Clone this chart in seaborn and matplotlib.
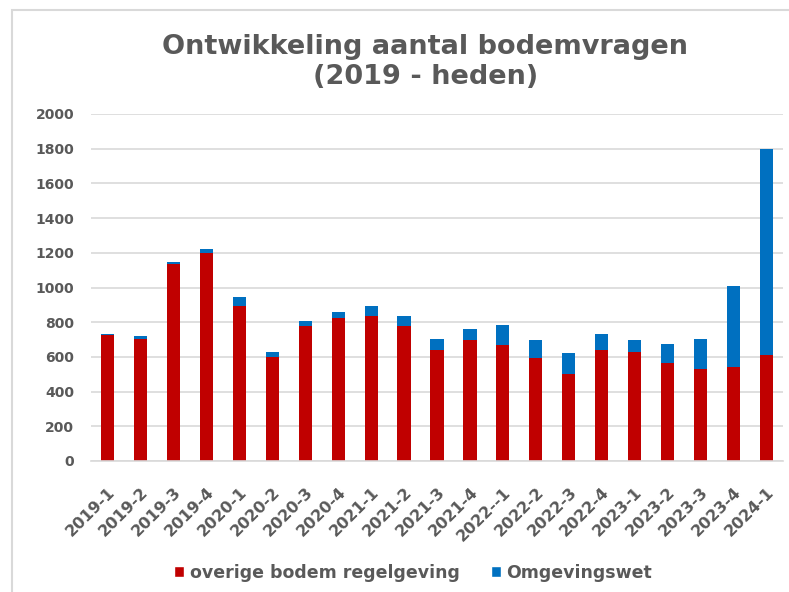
import matplotlib
matplotlib.use("Agg")
import matplotlib.pyplot as plt
import seaborn as sns
import pandas as pd
from matplotlib.patches import Rectangle, Patch

categories = ["2019-1", "2019-2", "2019-3", "2019-4", "2020-1", "2020-2", "2020-3",
              "2020-4", "2021-1", "2021-2", "2021-3", "2021-4", "2022--1", "2022-2",
              "2022-3", "2022-4", "2023-1", "2023-2", "2023-3", "2023-4", "2024-1"]
overige = [725, 703, 1135, 1200, 895, 600, 779, 823, 835, 779, 642, 700, 667, 593,
           500, 642, 630, 566, 533, 541, 613]
omgevingswet = [5, 18, 10, 23, 48, 30, 29, 33, 58, 56, 59, 63, 119, 103,
                124, 90, 70, 106, 172, 466, 1184]
yticks = [0, 200, 400, 600, 800, 1000, 1200, 1400, 1600, 1800, 2000]

RED = "#C00000"
BLUE = "#0070C0"
TXT = "#595959"

df = pd.DataFrame({"kwartaal": categories, "overige": overige, "omgevingswet": omgevingswet})
df["totaal"] = df["overige"] + df["omgevingswet"]

sns.set_theme(style="white")
plt.rcParams["font.family"] = ["DejaVu Sans"]

fig = plt.figure(figsize=(7.89, 5.92), dpi=100)
ax = fig.add_axes([91/789, 1-461/592, (783-91)/789, (461-114)/592])

sns.barplot(data=df, x="kwartaal", y="totaal", color=BLUE, width=0.4, ax=ax,
            saturation=1, linewidth=0)
sns.barplot(data=df, x="kwartaal", y="overige", color=RED, width=0.4, ax=ax,
            saturation=1, linewidth=0)

ax.set_xlim(-0.5, len(categories) - 0.5)
ax.set_ylim(0, 2000)
ax.set_yticks(yticks)
ax.set_yticklabels([str(v) for v in yticks], fontsize=10, fontweight="bold", color=TXT)
ax.set_xticks(range(len(categories)))
ax.set_xticklabels(categories, rotation=45, ha="right", rotation_mode="anchor",
                   fontsize=11.5, fontweight="bold", color=TXT)
ax.tick_params(axis="y", length=0, pad=12)
ax.tick_params(axis="x", length=0, pad=17)
ax.set_xlabel("")
ax.set_ylabel("")
ax.yaxis.grid(True, color="#D9D9D9", linewidth=1.2)
ax.set_axisbelow(True)
for s in ["top", "right", "left"]:
    ax.spines[s].set_visible(False)
ax.spines["bottom"].set_color("#D9D9D9")
ax.spines["bottom"].set_linewidth(1.2)

fig.text(0.539, 1-62/592, "Ontwikkeling aantal bodemvragen\n(2019 - heden)",
         ha="center", va="center", fontsize=19.5, fontweight="bold", color=TXT,
         linespacing=1.15)

handles = [Patch(facecolor=RED, label="overige bodem regelgeving"),
           Patch(facecolor=BLUE, label="Omgevingswet")]
leg = fig.legend(handles=handles, loc="center", bbox_to_anchor=(0.5235, 1-573/592),
                 ncol=2, frameon=False, handlelength=0.6, handleheight=0.6,
                 handletextpad=0.3, columnspacing=1.8,
                 prop={"size": 12.5, "weight": "bold"})
for t in leg.get_texts():
    t.set_color(TXT)

fig.patches.append(Rectangle((12/789, -0.1), 1.2, 1.1 - 10/592 + 0.0,
                             transform=fig.transFigure, fill=False,
                             edgecolor="#D9D9D9", linewidth=1.5, figure=fig))

fig.savefig("out.png", dpi=100)
